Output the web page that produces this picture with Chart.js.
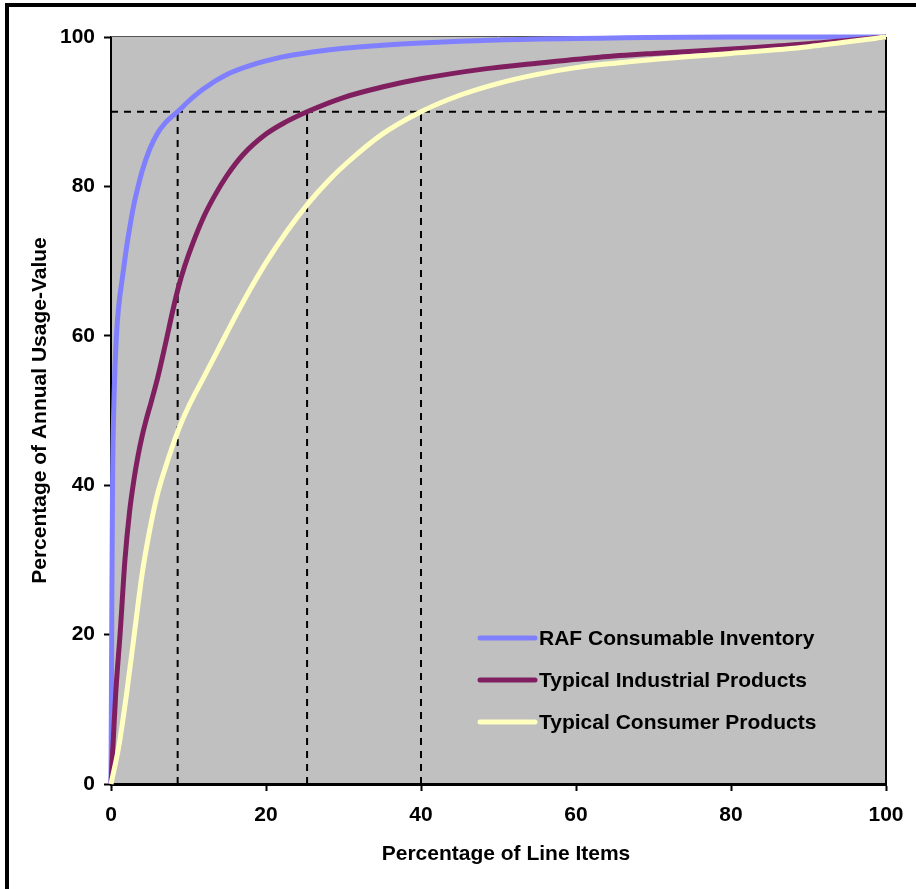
<!DOCTYPE html>
<html>
<head>
<meta charset="utf-8">
<script src="https://cdn.jsdelivr.net/npm/chart.js"></script>
<style>
  html, body { margin: 0; padding: 0; background: #fff; }
</style>
</head>
<body>
<canvas id="paretoChart" width="916" height="889"></canvas>
<script>
// cumulative usage-value curves
const rafX = [0, 0.1, 0.2, 0.4, 0.7, 1, 1.5, 2, 2.5, 3, 3.5, 4, 5, 6, 7, 8.6, 10, 12, 15, 18, 22, 26, 30, 35, 40, 50, 60, 80, 100];
const rafY = [0, 22, 40, 52, 60, 64, 68, 71.8, 75, 77.8, 80, 82, 85, 87.1, 88.5, 90, 91.4, 93.1, 95, 96.2, 97.3, 98, 98.5, 98.9, 99.2, 99.6, 99.8, 100, 100];

const industrialX = [0, 0.2, 0.6, 1.2, 1.8, 2.4, 3, 3.5, 4, 4.5, 5.2, 6, 7, 8, 8.7, 9.5, 10.6, 12, 13.4, 15, 17, 20, 22.5, 25.3, 30, 35, 40, 48, 55, 63, 70, 80, 90, 100];
const industrialY = [0, 4, 12, 20.5, 30, 36.5, 41, 44, 46.5, 48.6, 51.2, 54.3, 58.8, 63.5, 66.5, 69.3, 72.5, 76, 78.8, 81.5, 84.2, 87, 88.6, 90, 91.9, 93.3, 94.4, 95.7, 96.5, 97.3, 97.8, 98.4, 99.1, 100];

const consumerX = [0, 1, 2, 3, 4, 5, 6, 7, 8.7, 10, 12, 14, 16, 18, 20, 22.7, 25.5, 28, 30.4, 35, 40, 45, 50, 55, 60, 65, 70, 80, 90, 100];
const consumerY = [0, 5, 12, 20, 28, 34, 38.8, 42.3, 47.4, 50.5, 54.5, 58.5, 62.5, 66.3, 69.8, 74, 77.8, 80.7, 83.1, 87, 90, 92.2, 93.8, 95, 95.9, 96.5, 97, 97.8, 98.7, 100];

// 90% reference line and where each curve crosses it
const cutoffLevel = 90;
const cutoffX = [8.6, 25.3, 40];

const axisMin = 0;
const axisMax = 100;
const axisStep = 20;

function toPoints(xs, ys) {
    return xs.map((x, i) => ({ x: x, y: ys[i] }));
}

const FONT = '"Liberation Sans", Arial, sans-serif';

function curve(label, xs, ys, color, order) {
    return {
        label: label,
        data: toPoints(xs, ys),
        borderColor: color,
        backgroundColor: color,
        borderWidth: 5,
        pointRadius: 0,
        fill: false,
        cubicInterpolationMode: 'monotone',
        clip: false,
        order: order
    };
}

function dashed(points) {
    return {
        label: '',
        data: points,
        borderColor: '#000',
        borderWidth: 2,
        borderDash: [7, 6],
        pointRadius: 0,
        fill: false,
        tension: 0,
        order: 10
    };
}

const datasets = [
    curve('RAF Consumable Inventory', rafX, rafY, '#8080FF', 3),
    curve('Typical Industrial Products', industrialX, industrialY, '#7F1F5F', 2),
    curve('Typical Consumer Products', consumerX, consumerY, '#FFFFC0', 1),
    dashed([{ x: axisMin, y: cutoffLevel }, { x: axisMax, y: cutoffLevel }])
];
cutoffX.forEach(c => datasets.push(dashed([{ x: c, y: axisMin }, { x: c, y: cutoffLevel }])));

const backdrop = {
    id: 'backdrop',
    beforeDraw(chart) {
        const ctx = chart.ctx, a = chart.chartArea;
        ctx.save();
        ctx.fillStyle = '#fff';
        ctx.fillRect(0, 0, chart.width, chart.height);
        ctx.fillStyle = '#000';
        ctx.fillRect(5, 3, 4, chart.height);
        ctx.fillRect(5, 3, chart.width, 4);
        ctx.fillStyle = '#C0C0C0';
        ctx.fillRect(a.left, a.top, a.right - a.left, a.bottom - a.top);
        ctx.restore();
    },
    beforeDatasetsDraw(chart) {
        const ctx = chart.ctx, a = chart.chartArea;
        ctx.save();
        ctx.strokeStyle = '#555';
        ctx.lineWidth = 1;
        ctx.beginPath();
        ctx.moveTo(a.left, a.top - 0.5);
        ctx.lineTo(a.right, a.top - 0.5);
        ctx.stroke();
        ctx.strokeStyle = '#000';
        ctx.lineWidth = 2;
        ctx.beginPath();
        ctx.moveTo(a.right, a.top);
        ctx.lineTo(a.right, a.bottom);
        ctx.stroke();
        ctx.restore();
    }
};

const titlesAndLegend = {
    id: 'titlesAndLegend',
    afterDraw(chart) {
        const ctx = chart.ctx, a = chart.chartArea;
        ctx.save();
        ctx.fillStyle = '#000';
        ctx.font = 'bold 21px ' + FONT;
        ctx.textAlign = 'center';
        ctx.textBaseline = 'alphabetic';
        ctx.fillText('Percentage of Line Items', 506, 860);
        ctx.save();
        ctx.translate(46, (a.top + a.bottom) / 2);
        ctx.rotate(-Math.PI / 2);
        ctx.fillText('Percentage of Annual Usage-Value', 0, 0);
        ctx.restore();

        // legend inside the plot, lower right
        let y = 638;
        chart.data.datasets.forEach(ds => {
            if (!ds.label) return;
            ctx.strokeStyle = ds.borderColor;
            ctx.lineWidth = 5;
            ctx.lineCap = 'round';
            ctx.beginPath();
            ctx.moveTo(480, y);
            ctx.lineTo(535, y);
            ctx.stroke();
            ctx.textAlign = 'left';
            ctx.textBaseline = 'middle';
            ctx.fillText(ds.label, 539, y + 1);
            y += 42;
        });
        ctx.restore();
    }
};

const tickFont = { family: FONT, size: 21, weight: 'bold' };

new Chart(document.getElementById('paretoChart'), {
    type: 'line',
    data: { datasets: datasets },
    options: {
        responsive: false,
        animation: false,
        layout: { padding: { top: 37, right: 30, left: 0, bottom: 0 } },
        plugins: {
            legend: { display: false },
            tooltip: { enabled: false }
        },
        scales: {
            x: {
                type: 'linear',
                min: axisMin,
                max: axisMax,
                afterFit: s => { s.height = 105; },
                ticks: { stepSize: axisStep, color: '#000', font: tickFont, padding: 12, maxRotation: 0 },
                grid: { drawOnChartArea: false, tickLength: 7, tickColor: '#000', tickWidth: 2 },
                border: { color: '#000', width: 3 }
            },
            y: {
                type: 'linear',
                min: axisMin,
                max: axisMax,
                afterFit: s => { s.width = 111; },
                ticks: { stepSize: axisStep, color: '#000', font: tickFont, padding: 9 },
                grid: { drawOnChartArea: false, tickLength: 7, tickColor: '#000', tickWidth: 2 },
                border: { color: '#000', width: 2 }
            }
        }
    },
    plugins: [backdrop, titlesAndLegend]
});
</script>
</body>
</html>
